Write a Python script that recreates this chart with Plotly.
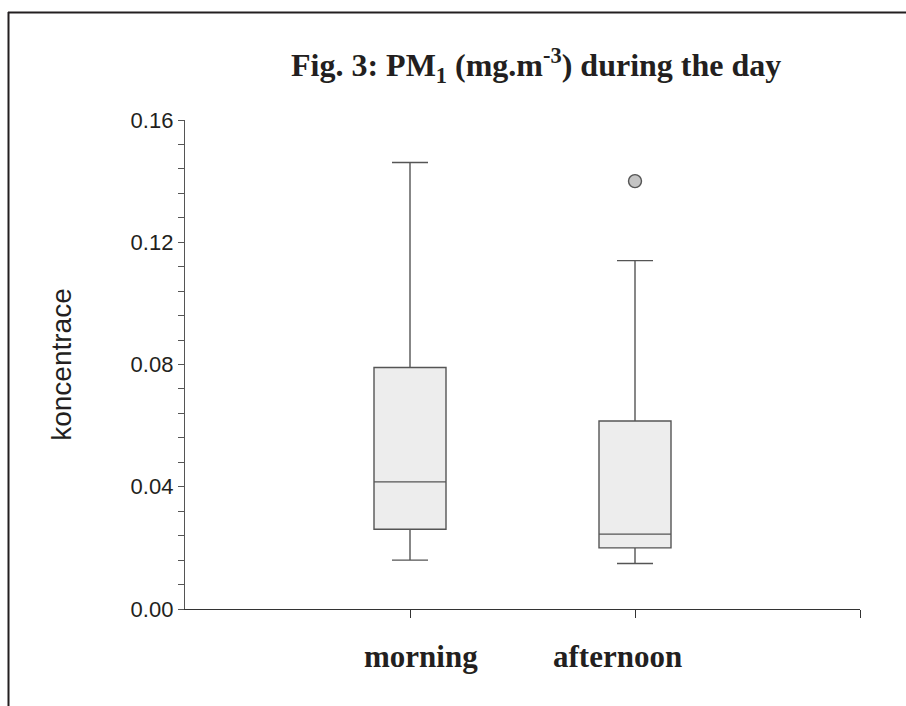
import plotly.graph_objects as go

categories = ["morning", "afternoon"]
lower_fence = [0.0160, 0.0149]
q1 = [0.0261, 0.0200]
median = [0.0416, 0.0245]
q3 = [0.0790, 0.0615]
upper_fence = [0.1461, 0.1140]
outlier_cat = ["afternoon"]
outlier_val = [0.140]
y_ticks = [0.00, 0.04, 0.08, 0.12, 0.16]
y_ticklabels = ["0.00", "0.04", "0.08", "0.12", "0.16"]

W, H = 906, 706
L, R, T, B = 185, 46, 120, 97
pw, ph = W - L - R, H - T - B

def px_x(p):
    return (p - L) / pw

def px_y(p):
    return (H - B - p) / ph

pos = list(range(len(categories)))

fig = go.Figure()
fig.add_trace(go.Box(
    x=pos, q1=q1, median=median, q3=q3,
    lowerfence=lower_fence, upperfence=upper_fence,
    width=0.32, whiskerwidth=0.5,
    fillcolor="#ededed",
    line=dict(color="#555555", width=1.4),
    boxpoints=False, showlegend=False, hoverinfo="skip",
))
fig.add_trace(go.Scatter(
    x=[categories.index(c) for c in outlier_cat], y=outlier_val,
    mode="markers",
    marker=dict(size=13, color="#c4c4c4", line=dict(color="#555555", width=1.4)),
    showlegend=False, hoverinfo="skip",
))

fig.update_xaxes(
    range=[-1, 2], tickvals=[0, 1, 2], showticklabels=False,
    ticks="outside", ticklen=8, tickcolor="#333333", tickwidth=1.2,
    showline=True, linecolor="#333333", linewidth=1.4,
    showgrid=False, zeroline=False,
)
fig.update_yaxes(
    range=[0, 0.16], tickvals=y_ticks, ticktext=y_ticklabels,
    ticks="outside", ticklen=6, tickcolor="#555555", tickwidth=1.2,
    minor=dict(dtick=0.008, ticks="outside", ticklen=6, tickcolor="#555555", tickwidth=1.2),
    showline=True, linecolor="#555555", linewidth=1.4,
    showgrid=False, zeroline=False,
    tickfont=dict(family="Liberation Sans, Arial", size=22, color="#231f20"),
    title=dict(text="koncentrace", font=dict(family="Liberation Sans, Arial", size=28, color="#231f20"), standoff=50),
)

# category labels
label_center_px = [420.5, 617.5]
for i, c in enumerate(categories):
    fig.add_annotation(
        x=px_x(label_center_px[i]), y=px_y(656), xref="paper", yref="paper", text="<b>%s</b>" % c,
        showarrow=False,
        font=dict(family="Liberation Serif, Times New Roman", size=31, color="#231f20"),
        xanchor="center", yanchor="middle",
    )

# title
fig.add_annotation(
    x=px_x(536), y=px_y(66), xref="paper", yref="paper",
    text="<b>Fig. 3: PM<sub>1</sub> (mg.m<sup>-3</sup>) during the day</b>",
    showarrow=False, xanchor="center", yanchor="middle",
    font=dict(family="Liberation Serif, Times New Roman", size=32, color="#231f20"),
)

# frame lines (top and left)
fig.add_shape(type="line", xref="paper", yref="paper",
              x0=px_x(8), x1=px_x(906), y0=px_y(12.5), y1=px_y(12.5),
              line=dict(color="#231f20", width=2))
fig.add_shape(type="line", xref="paper", yref="paper",
              x0=px_x(8.5), x1=px_x(8.5), y0=px_y(12), y1=px_y(706),
              line=dict(color="#231f20", width=2))

fig.update_layout(
    width=W, height=H,
    margin=dict(l=L, r=R, t=T, b=B),
    paper_bgcolor="white", plot_bgcolor="white",
)

fig.write_html("out.html")
